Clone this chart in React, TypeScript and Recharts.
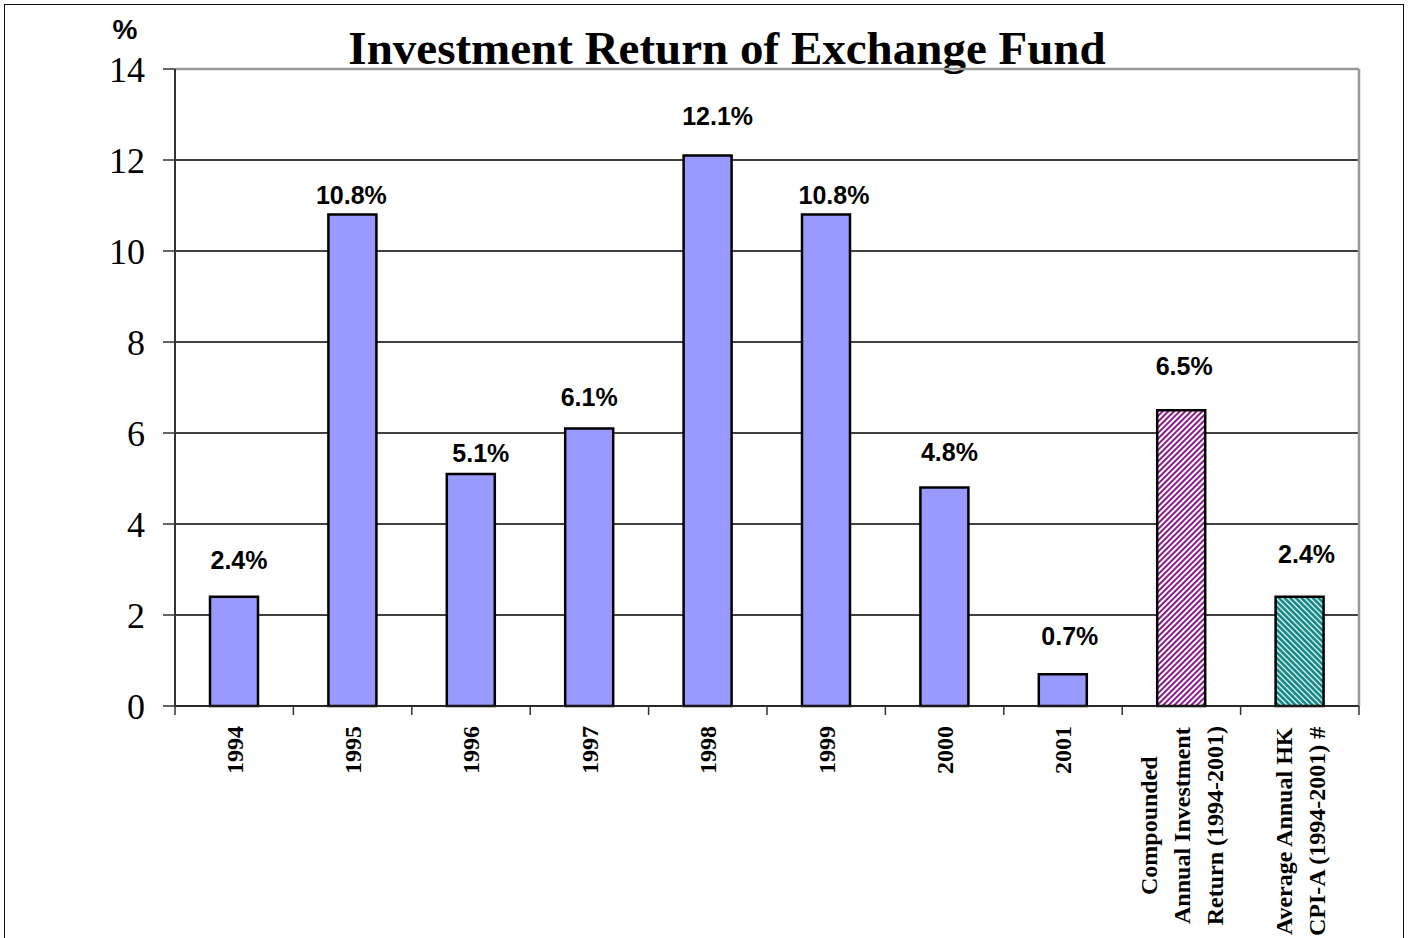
import {
  BarChart,
  Bar,
  XAxis,
  YAxis,
  CartesianGrid,
  Cell,
  LabelList,
  ReferenceLine,
} from "recharts";

const categories = [
  "1994",
  "1995",
  "1996",
  "1997",
  "1998",
  "1999",
  "2000",
  "2001",
  "Compounded\nAnnual Investment\nReturn (1994-2001)",
  "Average Annual HK\nCPI-A (1994-2001) #",
];
const returns = [2.4, 10.8, 5.1, 6.1, 12.1, 10.8, 4.8, 0.7, 6.5, 2.4];
const barFills = [
  "#9999FF",
  "#9999FF",
  "#9999FF",
  "#9999FF",
  "#9999FF",
  "#9999FF",
  "#9999FF",
  "#9999FF",
  "url(#hatchPurple)",
  "url(#hatchTeal)",
];
const yTicks = [0, 2, 4, 6, 8, 10, 12, 14];

// hand placed label nudges (px), as in the original sheet
const labelDx = [5, -1, 10, 0, 10, 8, 5, 7, 3, 7];
const labelRise = [37, 20, 21, 31, 39, 20, 36, 38, 44, 43];

const chartData = categories.map((name, i) => ({
  name,
  value: returns[i],
  fill: barFills[i],
}));

const SERIF = "'Liberation Serif', 'Times New Roman', serif";
const SANS = "'Liberation Sans', Arial, sans-serif";
const TICK_FONT = `bold 24px ${SERIF}`;

let measureCtx: CanvasRenderingContext2D | null = null;
const measure = (s: string) => {
  if (!measureCtx) measureCtx = document.createElement("canvas").getContext("2d");
  if (!measureCtx) return s.length * 11;
  measureCtx.font = TICK_FONT;
  return measureCtx.measureText(s).width;
};

const CategoryTick = (props: any) => {
  const { x, y, payload, index, visibleTicksCount } = props;
  const half = payload.offset || 59;
  const lines = String(payload.value).split("\n");
  const top = y + 20;
  const lineH = 33;
  const marks = [
    <line key="l" x1={x - half} x2={x - half} y1={y} y2={y + 9} stroke="#333" strokeWidth={1.5} />,
  ];
  if (index === (visibleTicksCount ?? 10) - 1) {
    marks.push(
      <line key="r" x1={x + half} x2={x + half} y1={y} y2={y + 9} stroke="#333" strokeWidth={1.5} />
    );
  }
  if (lines.length === 1) {
    return (
      <g>
        {marks}
        <text
          transform={`translate(${x}, ${top}) rotate(-90)`}
          textAnchor="end"
          dy="0.35em"
          style={{ font: TICK_FONT }}
          fill="#000"
        >
          {lines[0]}
        </text>
      </g>
    );
  }
  const maxW = Math.max(...lines.map(measure));
  const cy = top + maxW / 2;
  return (
    <g>
      {marks}
      <text
        transform={`translate(${x}, ${cy}) rotate(-90)`}
        textAnchor="middle"
        style={{ font: TICK_FONT }}
        fill="#000"
      >
        {lines.map((ln, i) => (
          <tspan key={i} x={0} y={(i - (lines.length - 1) / 2) * lineH} dy="0.35em">
            {ln}
          </tspan>
        ))}
      </text>
    </g>
  );
};

const ValueLabel = (props: any) => {
  const { x, y, width, value, index } = props;
  return (
    <text
      x={x + width / 2 + (labelDx[index] ?? 0)}
      y={y - (labelRise[index] ?? 35) + 9}
      textAnchor="middle"
      style={{ font: `bold 25px ${SANS}` }}
      fill="#000"
    >
      {`${value}%`}
    </text>
  );
};

export default function App() {
  return (
    <div
      style={{
        position: "absolute",
        left: 0,
        top: 0,
        width: 1409,
        height: 938,
        background: "#fff",
        overflow: "hidden",
      }}
    >
      <svg width={0} height={0} style={{ position: "absolute" }}>
        <defs>
          <pattern id="hatchPurple" patternUnits="userSpaceOnUse" width={4} height={4} patternTransform="rotate(45)">
            <rect width={4} height={4} fill="#fff" />
            <line x1={1} y1={0} x2={1} y2={4} stroke="#800080" strokeWidth={1.8} />
          </pattern>
          <pattern id="hatchTeal" patternUnits="userSpaceOnUse" width={4} height={4} patternTransform="rotate(-45)">
            <rect width={4} height={4} fill="#fff" />
            <line x1={1.5} y1={0} x2={1.5} y2={4} stroke="#008080" strokeWidth={2.6} />
          </pattern>
        </defs>
      </svg>
      <div
        style={{
          position: "absolute",
          left: 4,
          top: 4,
          width: 1398,
          height: 960,
          border: "1.5px solid #111",
        }}
      />
      <div
        style={{
          position: "absolute",
          left: 0,
          right: 0,
          top: 20,
          textAlign: "center",
          paddingLeft: 45,
          font: `bold 47px ${SERIF}`,
          color: "#000",
          lineHeight: "56px",
        }}
      >
        Investment Return of Exchange Fund
      </div>
      <div
        style={{
          position: "absolute",
          left: 100,
          width: 50,
          top: 14,
          textAlign: "center",
          font: `bold 28px ${SANS}`,
          color: "#000",
        }}
      >
        %
      </div>
      <div style={{ position: "absolute", left: 0, top: 0 }}>
        <BarChart
          width={1409}
          height={938}
          data={chartData}
          margin={{ top: 69, right: 50, left: 0, bottom: 0 }}
          barSize={48}
        >
          <CartesianGrid vertical={false} stroke="#000" strokeWidth={1.3} />
          <CartesianGrid
            horizontal={false}
            stroke="#999"
            strokeWidth={2.5}
            verticalCoordinatesGenerator={({ offset }: any) => [offset.left + offset.width]}
          />
          <ReferenceLine y={14} stroke="#999" strokeWidth={2.5} />
          <XAxis
            dataKey="name"
            interval={0}
            height={232}
            tickSize={0}
            tickMargin={0}
            tickLine={false}
            axisLine={{ stroke: "#222", strokeWidth: 1.5 }}
            tick={<CategoryTick />}
          />
          <YAxis
            domain={[0, 14]}
            ticks={yTicks}
            width={175}
            tickSize={12}
            tickMargin={18}
            axisLine={{ stroke: "#333", strokeWidth: 2 }}
            tickLine={{ stroke: "#333", strokeWidth: 1.5 }}
            tick={{ fill: "#000", fontSize: 36, fontFamily: SERIF }}
            interval={0}
          />
          <Bar dataKey="value" stroke="#000" strokeWidth={2.5} isAnimationActive={false}>
            {chartData.map((d, i) => (
              <Cell key={i} fill={d.fill} />
            ))}
            <LabelList dataKey="value" content={<ValueLabel />} />
          </Bar>
        </BarChart>
      </div>
    </div>
  );
}
